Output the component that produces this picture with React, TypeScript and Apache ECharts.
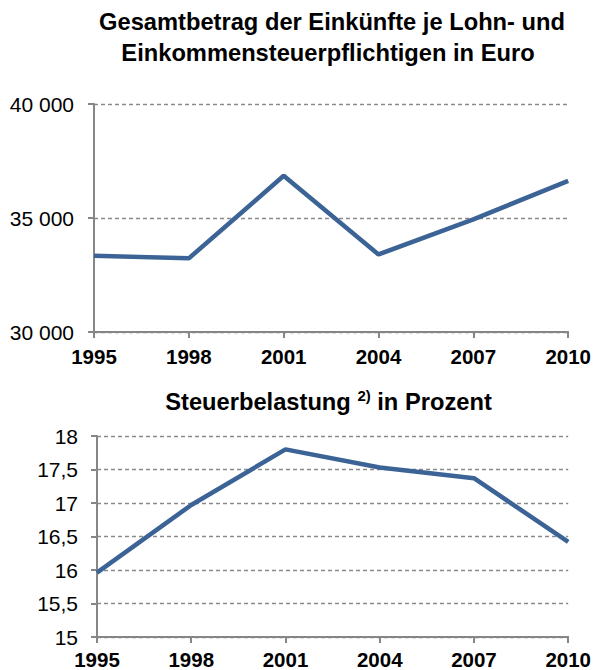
import React, { useEffect, useRef } from "react";
import * as echarts from "echarts";

const years = ["1995", "1998", "2001", "2004", "2007", "2010"];
const einkuenfte = [33340, 33230, 36850, 33400, 34940, 36630];
const steuerbelastung = [15.96, 16.97, 17.8, 17.53, 17.37, 16.42];

const FONT = "'Liberation Sans', Arial, sans-serif";
const LINE = "#3b6396";
const AXIS = "#868686";
const GRIDC = "#8a8a8a";
const TITLE_FS = 23.7;

function xAxisCfg(gridIndex: number, margin: number) {
  return {
    type: "category" as const,
    gridIndex,
    data: years,
    boundaryGap: false,
    axisLine: { show: true, lineStyle: { color: AXIS, width: 2 } },
    axisTick: { show: true, length: 6, lineStyle: { color: AXIS, width: 2 } },
    axisLabel: {
      margin,
      color: "#000",
      fontFamily: FONT,
      fontSize: 20.5,
      fontWeight: "bold" as const,
      interval: 0,
    },
    splitLine: { show: false },
  };
}

function yAxisCfg(gridIndex: number, min: number, max: number, interval: number, fmt: (v: number) => string, margin: number) {
  return {
    type: "value" as const,
    gridIndex,
    min,
    max,
    interval,
    axisLine: { show: true, lineStyle: { color: AXIS, width: 2 } },
    axisTick: { show: true, length: 6, lineStyle: { color: AXIS, width: 2 } },
    axisLabel: {
      margin,
      color: "#000",
      fontFamily: FONT,
      fontSize: 21,
      formatter: fmt,
    },
    splitLine: { show: true, lineStyle: { color: GRIDC, width: 1.3, type: [4, 3] } },
  };
}

export default function App() {
  const ref = useRef<HTMLDivElement>(null);
  useEffect(() => {
    if (!ref.current) return;
    const chart = echarts.init(ref.current, undefined, { renderer: "svg" });
    chart.setOption({
      animation: false,
      backgroundColor: "#fff",
      graphic: [
        {
          type: "text",
          x: 332,
          y: 22,
          style: {
            text: "Gesamtbetrag der Einkünfte je Lohn- und",
            fontFamily: FONT,
            fontSize: TITLE_FS,
            fontWeight: "bold",
            fill: "#000",
            align: "center",
            verticalAlign: "middle",
          },
        },
        {
          type: "text",
          x: 328,
          y: 53,
          style: {
            text: "Einkommensteuerpflichtigen in Euro",
            fontFamily: FONT,
            fontSize: TITLE_FS,
            fontWeight: "bold",
            fill: "#000",
            align: "center",
            verticalAlign: "middle",
          },
        },
        {
          type: "text",
          x: 328.5,
          y: 402,
          style: {
            text: "Steuerbelastung {s|2)} in Prozent",
            fontFamily: FONT,
            fontSize: TITLE_FS,
            fontWeight: "bold",
            fill: "#000",
            align: "center",
            verticalAlign: "middle",
            lineHeight: 28,
            rich: {
              s: {
                fontFamily: FONT,
                fontSize: 15,
                fontWeight: "bold",
                fill: "#000",
                verticalAlign: "top",
                lineHeight: 28,
              },
            },
          },
        },
      ],
      grid: [
        { left: 94, top: 104, width: 475, height: 228 },
        { left: 97, top: 436, width: 472, height: 202 },
      ],
      xAxis: [xAxisCfg(0, 14), xAxisCfg(1, 12)],
      yAxis: [
        yAxisCfg(0, 30000, 40000, 5000, (v: number) => String(v).replace(/\B(?=(\d{3})+(?!\d))/g, " "), 20),
        yAxisCfg(1, 15, 18, 0.5, (v: number) => String(v).replace(".", ","), 19),
      ],
      series: [
        {
          type: "line",
          xAxisIndex: 0,
          yAxisIndex: 0,
          data: einkuenfte,
          symbol: "none",
          lineStyle: { color: LINE, width: 4.5 },
        },
        {
          type: "line",
          xAxisIndex: 1,
          yAxisIndex: 1,
          data: steuerbelastung,
          symbol: "none",
          lineStyle: { color: LINE, width: 4.5 },
        },
      ],
    });
    return () => chart.dispose();
  }, []);
  return (
    <div
      ref={ref}
      style={{ position: "fixed", left: 0, top: 0, width: 594, height: 670 }}
    />
  );
}
